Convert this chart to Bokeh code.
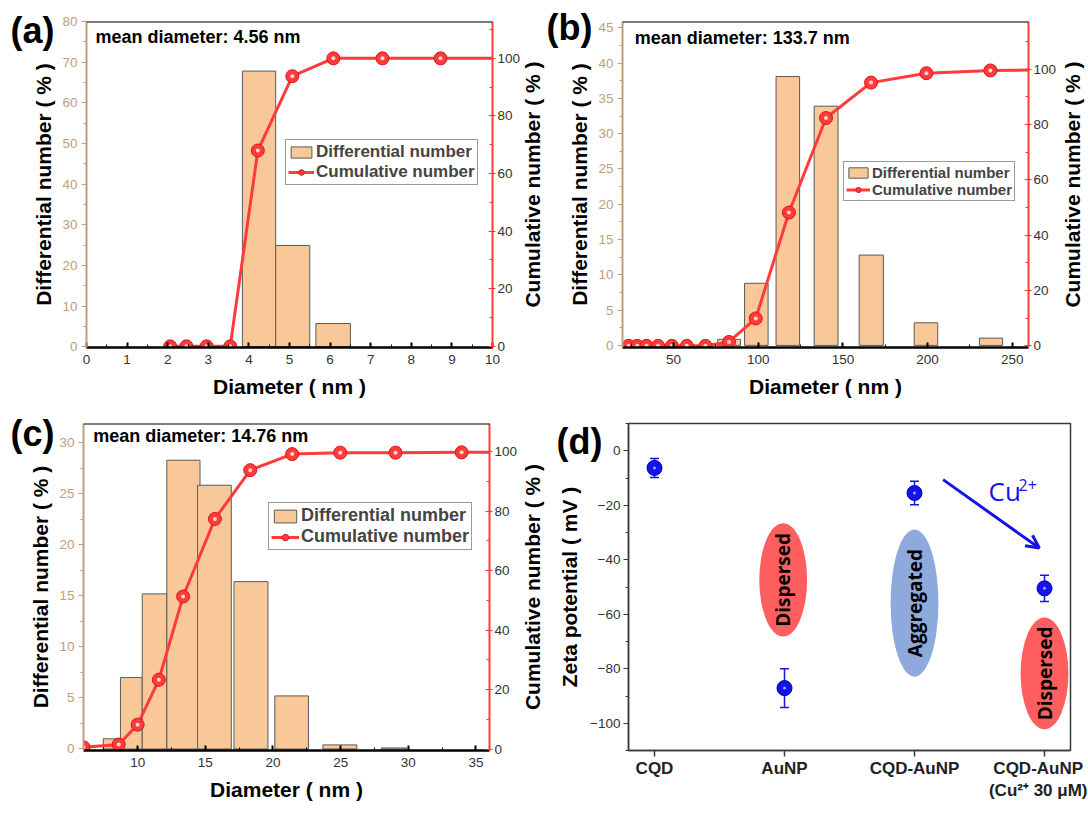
import math
import numpy as np
from bokeh.plotting import figure
from bokeh.models import (Range1d, LinearAxis, SingleIntervalTicker, FixedTicker, Legend, Title,
                          LegendItem, Span, Whisker, ColumnDataSource, Arrow, OpenHead, TeeHead)
from bokeh.layouts import column, row
from bokeh.embed import file_html
from bokeh.resources import INLINE
from bokeh.core.properties import value

# ---------------- data ----------------
a_bin_left = [3.84, 4.66, 5.65]
a_bin_right = [4.66, 5.50, 6.50]
a_diff = [67.8, 24.9, 5.7]
a_cum_x = [2.06, 2.46, 2.96, 3.54, 4.22, 5.07, 6.08, 7.29, 8.72, 10.6]
a_cum_y = [0, 0, 0, 0, 68.0, 93.8, 100, 100, 100, 100]
a_mean = "mean diameter: 4.56 nm"

b_bin_left = [76.0, 91.9, 110.5, 133.0, 159.6, 192.1, 230.6]
b_bin_right = [89.5, 105.8, 124.4, 147.1, 173.9, 206.0, 244.3]
b_diff = [0.85, 8.8, 38.1, 33.9, 12.8, 3.2, 1.03]
b_cum_x = [23.4, 28.5, 34.0, 40.8, 49.0, 57.8, 68.8, 82.7, 98.5, 118.1, 140.0, 166.6, 199.3, 237.1, 275.0]
b_cum_y = [0, 0, 0, 0, 0, 0, 0, 1.4, 9.9, 48.2, 82.4, 95.2, 98.6, 99.6, 99.8]
b_mean = "mean diameter: 133.7 nm"

c_bin_left = [7.46, 8.73, 10.34, 12.16, 14.43, 17.12, 20.14, 23.69, 28.0]
c_bin_right = [8.68, 10.34, 12.16, 14.61, 16.92, 19.63, 22.62, 26.2, 29.9]
c_diff = [1.0, 7.0, 15.2, 28.3, 25.85, 16.4, 5.2, 0.4, 0.1]
c_cum_x = [6.0, 8.6, 10.0, 11.57, 13.36, 15.71, 18.32, 21.42, 24.97, 29.06, 33.94, 37.5]
c_cum_y = [0.6, 1.5, 8.2, 23.3, 51.3, 77.4, 93.8, 99.2, 99.7, 99.7, 99.8, 99.8]
c_mean = "mean diameter: 14.76 nm"

d_labels = ["CQD", "AuNP", "CQD-AuNP", "CQD-AuNP\n(Cu²⁺ 30 μM)"]
d_pos = [1, 2, 3, 4]
d_zeta = [-6.3, -87.1, -15.5, -50.5]
d_err = [3.5, 7.1, 4.3, 4.8]
d_state = ["Dispersed", "Aggregated", "Dispersed"]
d_state_pos = [1.99, 3.0, 4.0]
d_state_center = [-47.4, -55.9, -81.7]
d_state_span = [41.6, 54.0, 41.0]
d_state_color = ["#FF5E5E", "#8EA9DB", "#FF5E5E"]
d_arrow_start = (3.22, -10.6)
d_arrow_end = (3.96, -35.7)

# ---------------- style ----------------
FONT = "Liberation Sans"
TAN = "#BF9E7C"
RED = "#FF3B3B"
PEACH = "#F9C899"
BLUE = "#1414E6"
CUM_TITLE = "Cumulative number ( % )"


def letter_title(p, letter, offset, standoff):
    t = p.title
    t.text = letter
    t.align = "left"
    t.vertical_align = "bottom"
    t.offset = offset
    t.standoff = standoff
    t.text_font = FONT
    t.text_font_style = "bold"
    t.text_font_size = "36px"
    t.text_color = "black"


def dist_panel(letter, bl, br, bh, cx, cy, mean_txt, xr, yl, yr, xint, lint, rint,
               W, H, bL, bR, bT, bB, mean_xy, letter_off, leg_loc, leg_fs, gw, gh, lh,
               rtitle_standoff):
    p = figure(width=W, height=H, x_range=Range1d(*xr), y_range=Range1d(*yl),
               output_backend="svg", toolbar_location=None,
               min_border_left=bL, min_border_right=bR, min_border_top=bT, min_border_bottom=bB)
    p.extra_y_ranges = {"cum": Range1d(*yr)}
    p.xgrid.visible = False
    p.ygrid.visible = False
    p.outline_line_color = None
    p.background_fill_color = "white"
    p.border_fill_color = "white"
    letter_title(p, letter, *letter_off)

    bars = p.quad(left=bl, right=br, bottom=0, top=bh, fill_color=PEACH,
                  line_color="#5a5a5a", line_width=1)
    line = p.line(cx, cy, y_range_name="cum", line_color=RED, line_width=3)
    pts = p.scatter(cx, cy, y_range_name="cum", size=13, fill_color=RED,
                    line_color="#E01515", line_width=1)
    p.scatter(cx, cy, y_range_name="cum", size=4, fill_color="#FFD6D6", line_color=None)

    p.text(x=[mean_xy[0]], y=[mean_xy[1]], text=[mean_txt], text_font=value(FONT),
           text_font_style="bold", text_font_size="18px", text_align="left",
           text_baseline="middle", text_color="black")

    p.add_layout(Span(location=yl[1], dimension="width", line_color="black", line_width=2))

    xa = p.xaxis[0]
    xa.ticker = SingleIntervalTicker(interval=xint, num_minor_ticks=2)
    xa.axis_line_color = "black"
    xa.axis_line_width = 2.5
    xa.major_tick_line_color = "black"
    xa.minor_tick_line_color = "black"
    xa.major_tick_line_width = 2
    xa.major_tick_in = 5
    xa.major_tick_out = 0
    xa.minor_tick_in = 3
    xa.minor_tick_out = 0
    xa.major_label_text_font = FONT
    xa.major_label_text_font_size = "13.5px"
    xa.major_label_text_color = "#333333"
    xa.major_label_standoff = 7
    xa.axis_label = "Diameter ( nm )"
    xa.axis_label_text_font = FONT
    xa.axis_label_text_font_style = "bold"
    xa.axis_label_text_font_size = "21px"
    xa.axis_label_text_color = "black"
    xa.axis_label_standoff = 8

    ya = p.yaxis[0]
    ya.ticker = SingleIntervalTicker(interval=lint, num_minor_ticks=2)
    ya.axis_line_color = TAN
    ya.axis_line_width = 2
    ya.major_tick_line_color = TAN
    ya.minor_tick_line_color = TAN
    ya.major_tick_in = 0
    ya.major_tick_out = 5
    ya.minor_tick_in = 0
    ya.minor_tick_out = 3
    ya.major_label_text_font = FONT
    ya.major_label_text_font_size = "13.5px"
    ya.major_label_text_color = TAN
    ya.major_label_standoff = 4
    ya.axis_label = "Differential number ( % )"
    ya.axis_label_text_font = FONT
    ya.axis_label_text_font_style = "bold"
    ya.axis_label_text_font_size = "21px"
    ya.axis_label_text_color = "black"
    ya.axis_label_standoff = 4

    ra = LinearAxis(y_range_name="cum", ticker=SingleIntervalTicker(interval=rint, num_minor_ticks=2))
    ra.axis_line_color = RED
    ra.axis_line_width = 2
    ra.major_tick_line_color = RED
    ra.minor_tick_line_color = RED
    ra.major_tick_in = 4
    ra.major_tick_out = 3
    ra.minor_tick_in = 3
    ra.minor_tick_out = 0
    ra.major_label_text_font = FONT
    ra.major_label_text_font_size = "13.5px"
    ra.major_label_text_color = "#333333"
    ra.major_label_standoff = 2
    p.add_layout(ra, "right")

    # right-hand title, reading bottom-to-top like the reference
    rt = Title(text=CUM_TITLE, align="center", vertical_align="bottom",
               standoff=rtitle_standoff, text_font=FONT, text_font_style="bold",
               text_font_size="21px", text_color="black")
    p.add_layout(rt, "left")

    leg = Legend(items=[LegendItem(label="Differential number", renderers=[bars]),
                        LegendItem(label="Cumulative number", renderers=[line, pts])],
                 location=leg_loc, orientation="vertical")
    leg.border_line_color = "#333333"
    leg.border_line_width = 1
    leg.padding = 2
    leg.spacing = 0
    leg.margin = 0
    leg.label_text_font = FONT
    leg.label_text_font_style = "bold"
    leg.label_text_font_size = leg_fs
    leg.glyph_width = gw
    leg.glyph_height = gh
    leg.label_height = lh
    leg.label_standoff = 2
    p.add_layout(leg)
    return p


pa = dist_panel("(a)", a_bin_left, a_bin_right, a_diff, a_cum_x, a_cum_y, a_mean,
                xr=(0, 10), yl=(-0.2, 80), yr=(-0.4, 112.8), xint=1, lint=10, rint=20,
                W=545, H=408, bL=86, bR=53, bT=21, bB=61,
                mean_xy=(0.22, 76.1), letter_off=(-76, -58), leg_loc=(199, 162),
                leg_fs="17px", gw=26, gh=14, lh=19, rtitle_standoff=-1028)

pb = dist_panel("(b)", b_bin_left, b_bin_right, b_diff, b_cum_x, b_cum_y, b_mean,
                xr=(19.8, 259.6), yl=(-0.3, 45.9), yr=(-0.6, 117.3), xint=50, lint=5, rint=20,
                W=542, H=408, bL=77, bR=59, bT=21, bB=61,
                mean_xy=(27, 43.55), letter_off=(-76, -52), leg_loc=(221, 146),
                leg_fs="15px", gw=24, gh=13, lh=17, rtitle_standoff=-1036)

pc = dist_panel("(c)", c_bin_left, c_bin_right, c_diff, c_cum_x, c_cum_y, c_mean,
                xr=(6, 36), yl=(-0.15, 31.9), yr=(-0.5, 109.5), xint=5, lint=5, rint=20,
                W=552, H=406, bL=83, bR=63, bT=15, bB=64,
                mean_xy=(6.72, 30.65), letter_off=(-73, -60), leg_loc=(185, 200),
                leg_fs="18px", gw=28, gh=16, lh=21, rtitle_standoff=-1034)

# ---------------- panel (d) ----------------
pd_ = figure(width=535, height=406, x_range=Range1d(0.8, 4.2), y_range=Range1d(-110, 10),
             output_backend="svg", toolbar_location=None,
             min_border_left=76, min_border_right=17, min_border_top=7, min_border_bottom=43)
pd_.xgrid.visible = False
pd_.ygrid.visible = False
pd_.outline_line_color = "#3a3a3a"
pd_.outline_line_width = 1.5
pd_.background_fill_color = "white"
pd_.border_fill_color = "white"
letter_title(pd_, "(d)", -72, -76)

pd_.ellipse(x=d_state_pos, y=d_state_center, width=0.368, height=d_state_span,
            fill_color=d_state_color, line_color=None)
pd_.text(x=d_state_pos, y=d_state_center, text=d_state, angle=math.pi / 2,
         text_font=value("Open Sans"), text_font_style="bold", text_font_size="19px",
         text_align="center", text_baseline="middle", text_color="black")

src = ColumnDataSource(dict(x=d_pos, y=d_zeta,
                            upper=[v + e for v, e in zip(d_zeta, d_err)],
                            lower=[v - e for v, e in zip(d_zeta, d_err)]))
pd_.add_layout(Whisker(source=src, base="x", upper="upper", lower="lower", dimension="height",
                       line_color=BLUE, line_width=1.5,
                       upper_head=TeeHead(size=9, line_color=BLUE, line_width=1.5),
                       lower_head=TeeHead(size=9, line_color=BLUE, line_width=1.5)))
pd_.scatter("x", "y", source=src, size=15, fill_color=BLUE, line_color="#0000B0", line_width=1)
pd_.scatter("x", "y", source=src, size=3, fill_color="#A0A0FF", line_color=None)

pd_.add_layout(Arrow(end=OpenHead(size=13, line_color=BLUE, line_width=3),
                     x_start=d_arrow_start[0], y_start=d_arrow_start[1],
                     x_end=d_arrow_end[0], y_end=d_arrow_end[1],
                     line_color=BLUE, line_width=3))
pd_.text(x=[3.57], y=[-14.6], text=["Cu"], text_font=value("Open Sans"), text_font_size="26px",
         text_align="left", text_baseline="middle", text_color=BLUE)
pd_.text(x=[3.80], y=[-12.6], text=["2+"], text_font=value("Open Sans"), text_font_size="16px",
         text_align="left", text_baseline="middle", text_color=BLUE)

xa = pd_.xaxis[0]
xa.ticker = FixedTicker(ticks=d_pos, minor_ticks=[])
xa.major_label_overrides = {p: l for p, l in zip(d_pos, d_labels)}
xa.axis_line_color = "#3a3a3a"
xa.axis_line_width = 1.5
xa.major_tick_line_color = "#3a3a3a"
xa.major_tick_line_width = 1.5
xa.major_tick_in = 0
xa.major_tick_out = 6
xa.major_label_text_font = FONT
xa.major_label_text_font_style = "bold"
xa.major_label_text_font_size = "17px"
xa.major_label_text_color = "#222222"
xa.major_label_standoff = 2

ya = pd_.yaxis[0]
ya.ticker = SingleIntervalTicker(interval=20, num_minor_ticks=2)
ya.axis_line_color = "#3a3a3a"
ya.axis_line_width = 1.5
ya.major_tick_line_color = "#3a3a3a"
ya.minor_tick_line_color = "#3a3a3a"
ya.major_tick_in = 0
ya.major_tick_out = 5
ya.minor_tick_in = 0
ya.minor_tick_out = 3
ya.major_label_text_font = FONT
ya.major_label_text_font_size = "13.5px"
ya.major_label_text_color = "#333333"
ya.major_label_standoff = 3
ya.axis_label = "Zeta potential ( mV )"
ya.axis_label_text_font = FONT
ya.axis_label_text_font_style = "bold"
ya.axis_label_text_font_size = "21px"
ya.axis_label_text_color = "black"
ya.axis_label_standoff = 6

layout = column(row(pa, pb), row(pc, pd_))
open("out.html", "w").write(file_html(layout, INLINE))
